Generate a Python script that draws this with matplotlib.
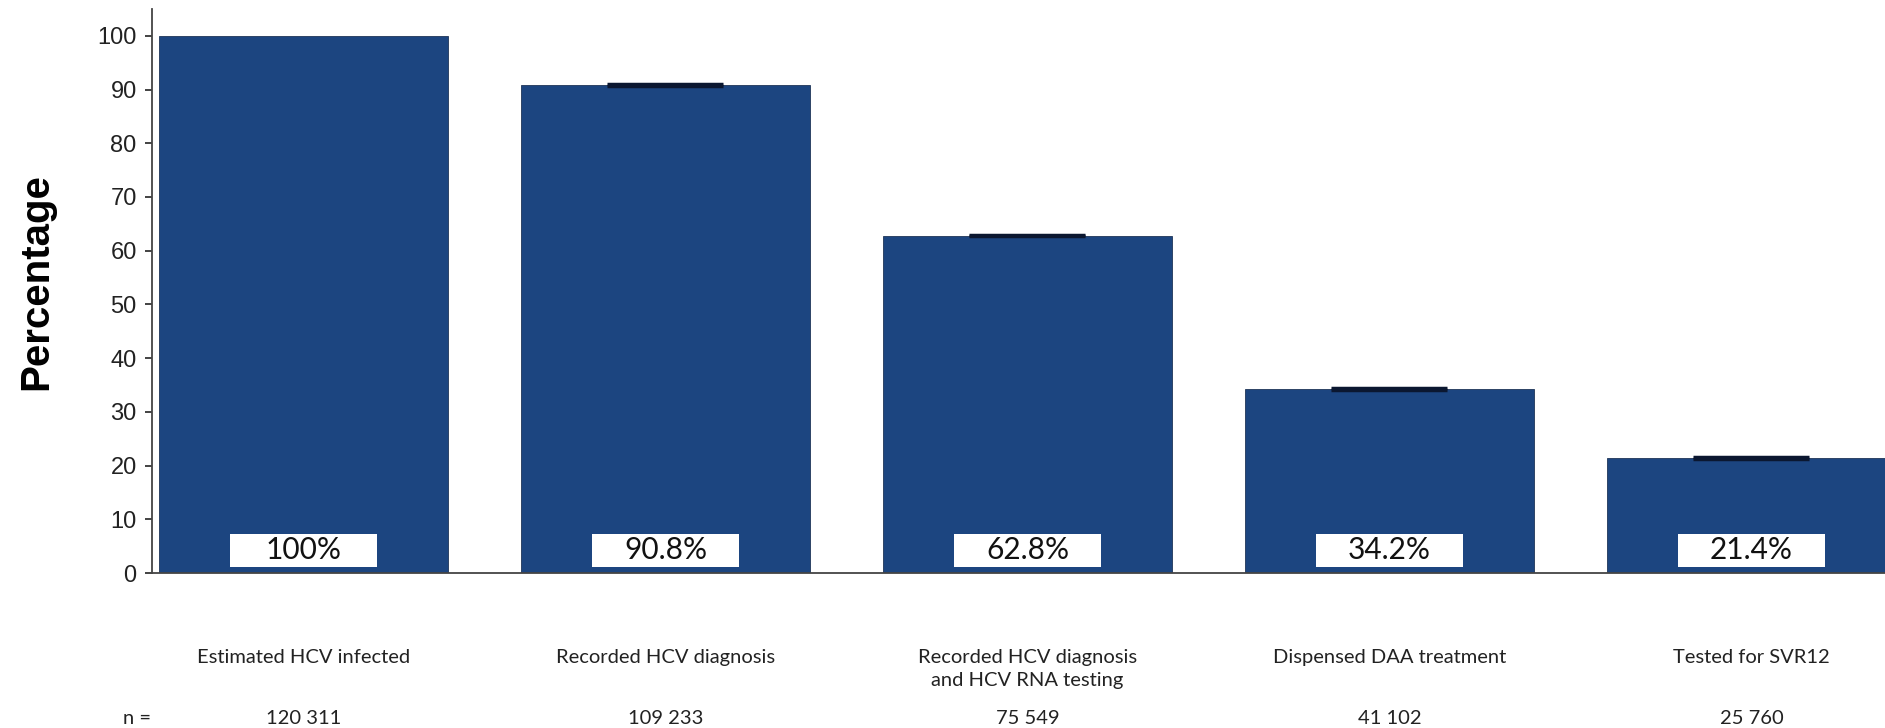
import matplotlib
matplotlib.use('Agg')
import matplotlib.pyplot as plt
import matplotlib.transforms as mtransforms
from matplotlib.patches import Rectangle
import numpy as np

# cascade of care values
categories = ['Estimated HCV infected', 'Recorded HCV diagnosis',
              'Recorded HCV diagnosis\nand HCV RNA testing',
              'Dispensed DAA treatment', 'Tested for SVR12']
percent = [100, 90.8, 62.8, 34.2, 21.4]
pct_labels = ['100%', '90.8%', '62.8%', '34.2%', '21.4%']
n_values = ['120 311', '109 233', '75 549', '41 102', '25 760']
ci_err = [0.0, 0.15, 0.15, 0.15, 0.15]

bar_color = '#1c4580'
label_font = 'Lato'

fig = plt.figure(figsize=(18.85, 7.28), dpi=100)
ax = fig.add_axes([152/1885, 1-573/728, 1-152/1885, (573-9)/728])

x = np.arange(len(percent))
ax.bar(x, percent, width=0.8, color=bar_color, edgecolor='#1f3558', linewidth=0.6, zorder=2)

# tiny confidence intervals on bars 2-5
ax.errorbar(x[1:], percent[1:], yerr=ci_err[1:], fmt='none', ecolor='#0b1730',
            elinewidth=2, capsize=42, capthick=2.5, zorder=3)

# white boxes with percentages
for i, lab in enumerate(pct_labels):
    ax.add_patch(Rectangle((x[i]-0.203, 1.1), 0.406, 6.2, facecolor='white',
                           edgecolor='none', zorder=4))
    ax.text(x[i], 4.3, lab, ha='center', va='center', fontsize=21.5,
            family=label_font, color='#111111', zorder=5)

ax.set_xlim(-0.4185, 4.369)
ax.set_ylim(0, 105)
ax.set_yticks(np.arange(0, 101, 10))
ax.set_xticks([])
ax.tick_params(axis='y', length=5, width=1.2, pad=6, labelsize=17, colors='#222222')
for t in ax.get_yticklabels():
    t.set_family('Liberation Sans')

for s in ['top', 'right']:
    ax.spines[s].set_visible(False)
for s in ['left', 'bottom']:
    ax.spines[s].set_linewidth(1.3)
    ax.spines[s].set_color('#444444')

# text rows below the axis
trans = mtransforms.blended_transform_factory(ax.transData, fig.transFigure)
for i, cat in enumerate(categories):
    ax.text(x[i], 1-649/728, cat, transform=trans, ha='center', va='top',
            fontsize=14.5, family=label_font, color='#222222', linespacing=1.45)
    ax.text(x[i], 1-718/728, n_values[i], transform=trans, ha='center', va='center',
            fontsize=14.5, family=label_font, color='#222222')
ax.text(-0.46, 1-718/728, 'n =', transform=trans, ha='center', va='center',
        fontsize=14.5, family=label_font, color='#222222')

fig.text(36/1885, 1-282/728, 'Percentage', rotation=90, ha='center', va='center',
         fontsize=29, fontweight='bold', family='Liberation Sans')

fig.savefig('out.png', dpi=100)
